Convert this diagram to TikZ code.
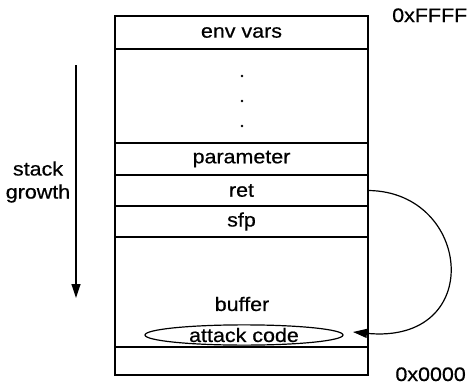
\documentclass[tikz,border=0pt]{standalone}
\usepackage{fontspec}
\setmainfont{Liberation Sans}[FakeStretch=1.1,FakeBold=0.6]
\usetikzlibrary{arrows.meta,shapes.geometric}
\begin{document}
\begin{tikzpicture}[x=1pt,y=-1pt,
  every node/.style={font=\fontsize{19.5}{23}\selectfont},
  cell/.style={draw, line width=1.4pt, minimum width=253pt, inner sep=0pt},
  lbl/.style={inner sep=0pt},
  dotmark/.style={circle, fill, inner sep=0pt, minimum size=2.6pt},
  arr/.style={line width=1.2pt, -{Triangle[length=14pt,width=9pt]}}]
\useasboundingbox (0,0) rectangle (467,386);
\node[cell, minimum height=33pt] (env) at (241.5,32.5) {env vars};
\node[cell, minimum height=94pt] (gap) at (241.5,96) {};
\node[cell, minimum height=32pt] (param) at (241.5,159) {parameter};
\node[cell, minimum height=31pt] (ret) at (241.5,190.5) {ret};
\node[cell, minimum height=31pt] (sfp) at (241.5,221.5) {sfp};
\node[cell, minimum height=110pt] (buf) at (241.5,292) {};
\node[cell, minimum height=28pt] (low) at (241.5,361) {};
\node[dotmark] (d1) at (242,76) {};
\node[dotmark] (d2) at (242,101) {};
\node[dotmark] (d3) at (242,126) {};
\node[lbl] (buftxt) at (242,304) {buffer};
\node[draw, ellipse, line width=1.2pt, minimum width=198pt, minimum height=16pt, inner sep=0pt] (attack) at (244,335) {attack code};
\coordinate (tip) at (353,332);
\draw[arr] (ret.east) .. controls (472,192) and (486,345) .. (tip);
\node[lbl, align=center] (growth) at (38,182) {stack\\growth};
\coordinate (gtop) at (76,65);
\coordinate (gbot) at (76,298);
\draw[arr] (gtop) -- (gbot);
\node[lbl, anchor=base west] (hi) at (392,22) {0xFFFF};
\node[lbl, anchor=base east] (lo) at (466,381) {0x0000};
\end{tikzpicture}
\end{document}
